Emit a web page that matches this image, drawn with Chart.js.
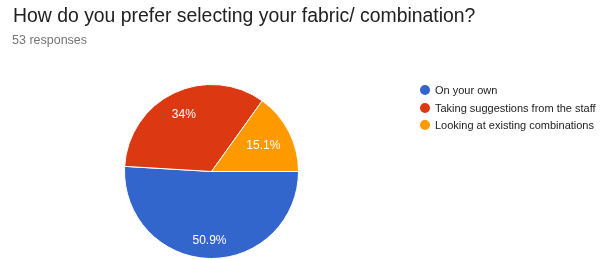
<!DOCTYPE html>
<html>
<head>
<meta charset="utf-8">
<script src="https://cdn.jsdelivr.net/npm/chart.js@4"></script>
<style>
  html, body { margin: 0; padding: 0; background: #fff; }
  #wrap { position: relative; width: 605px; height: 259px; overflow: hidden; }
  #chart { position: absolute; left: 0; top: 0; }
  .title { position: absolute; left: 13px; top: 4px; font: 19.4px "Liberation Sans", Arial, sans-serif; color: #212121; white-space: nowrap; }
  .sub { position: absolute; left: 12px; top: 33px; font: 12.5px "Liberation Sans", Arial, sans-serif; color: #757575; }
  #legend { position: absolute; left: 420px; top: 82px; font: 11px "Liberation Sans", Arial, sans-serif; color: #222; }
  #legend div { height: 17.7px; line-height: 16px; white-space: nowrap; }
  #legend span { display: inline-block; width: 10px; height: 10px; border-radius: 50%; margin-right: 5px; vertical-align: -1px; }
</style>
</head>
<body>
<div id="wrap">
  <canvas id="chart" width="605" height="259"></canvas>
  <div class="title">How do you prefer selecting your fabric/ combination?</div>
  <div class="sub">53 responses</div>
  <div id="legend"></div>
</div>
<script>
// Dane z wykresu (53 odpowiedzi)
const categories = ['On your own', 'Taking suggestions from the staff', 'Looking at existing combinations'];
const counts = [27, 18, 8];
const percentLabels = ['50.9%', '34%', '15.1%'];
const colors = ['#3366cc', '#dc3912', '#ff9900'];

// Legenda HTML
const legend = document.getElementById('legend');
categories.forEach((c, i) => {
  const row = document.createElement('div');
  row.innerHTML = '<span style="background:' + colors[i] + '"></span>' + c;
  legend.appendChild(row);
});

// Etykiety procentowe wewnątrz wycinków
const sliceLabels = {
  id: 'sliceLabels',
  afterDatasetsDraw(chart) {
    const ctx = chart.ctx;
    const meta = chart.getDatasetMeta(0);
    ctx.save();
    ctx.fillStyle = '#fff';
    ctx.font = '12px "Liberation Sans", Arial, sans-serif';
    ctx.textAlign = 'center';
    ctx.textBaseline = 'middle';
    meta.data.forEach((arc, i) => {
      const span = arc.endAngle - arc.startAngle;
      const frac = span < 1.2 ? 0.67 : (span > 3 ? 0.78 : 0.74);
      const mid = (arc.startAngle + arc.endAngle) / 2;
      const r = arc.outerRadius * frac;
      ctx.fillText(percentLabels[i], arc.x + Math.cos(mid) * r, arc.y + Math.sin(mid) * r + 1);
    });
    ctx.restore();
  }
};

new Chart(document.getElementById('chart').getContext('2d'), {
  type: 'pie',
  data: {
    labels: categories,
    datasets: [{
      data: counts,
      backgroundColor: colors,
      borderColor: '#ffffff',
      borderWidth: 1
    }]
  },
  options: {
    responsive: false,
    animation: false,
    rotation: 90,
    layout: { padding: { left: 124, right: 306, top: 84, bottom: 0 } },
    plugins: {
      legend: { display: false },
      tooltip: { enabled: false }
    }
  },
  plugins: [sliceLabels]
});
</script>
</body>
</html>
